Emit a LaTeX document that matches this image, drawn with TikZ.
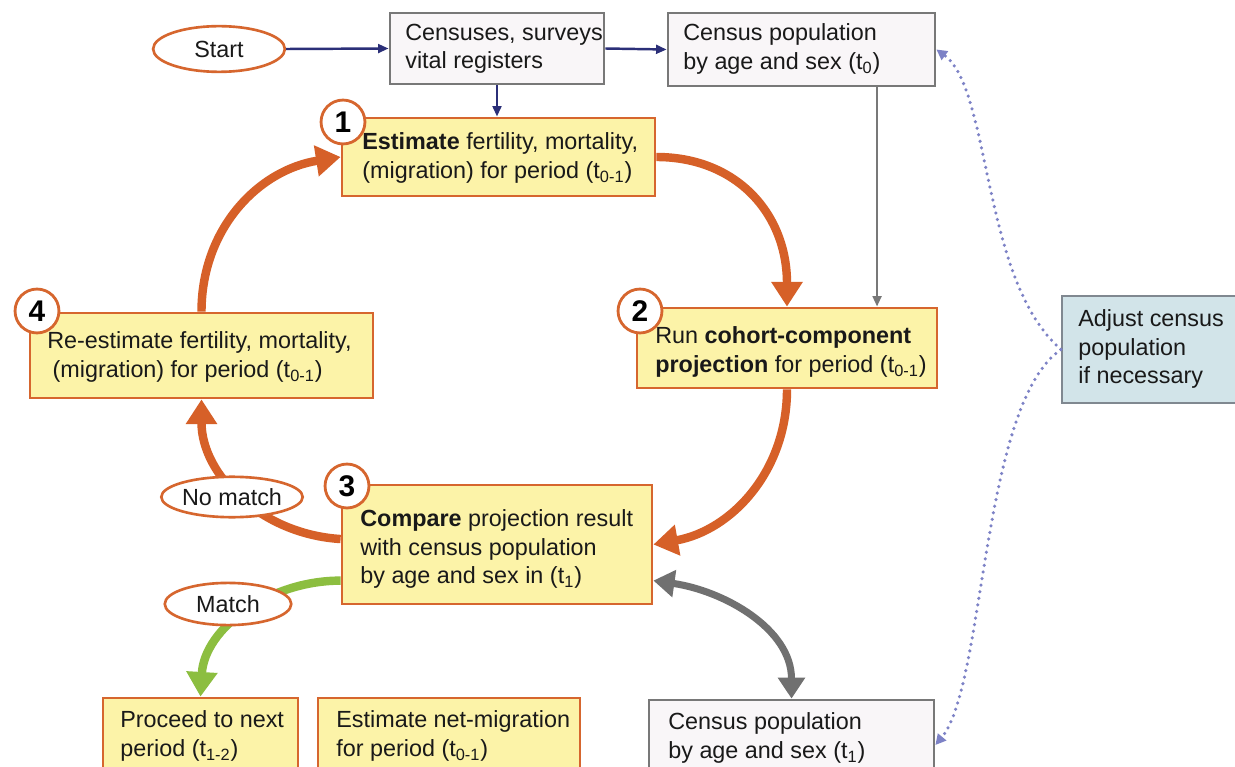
\documentclass[tikz,border=0pt]{standalone}
\usepackage{fontspec}
\setmainfont{Liberation Sans}
\usetikzlibrary{arrows.meta,fit,calc,shapes.geometric}
\definecolor{yfill}{RGB}{252,243,168}
\definecolor{oline}{RGB}{214,102,46}
\definecolor{oarrow}{RGB}{214,96,40}
\definecolor{gfill}{RGB}{249,246,248}
\definecolor{gline}{RGB}{120,120,120}
\definecolor{bfill}{RGB}{210,228,233}
\definecolor{bline}{RGB}{128,136,144}
\definecolor{navy}{RGB}{43,47,120}
\definecolor{dotc}{RGB}{125,130,198}
\definecolor{grn}{RGB}{140,190,64}
\definecolor{darr}{RGB}{112,112,112}
\definecolor{txtc}{RGB}{25,25,25}
\newcommand\dgfont{\fontsize{13.3pt}{16.2pt}\selectfont}
\begin{document}
\begin{tikzpicture}[x=0.02cm,y=-0.02cm,
  ybox/.style={draw=oline,fill=yfill,line width=1.6pt,inner sep=0pt},
  gbox/.style={draw=gline,fill=gfill,line width=1.6pt,inner sep=0pt},
  bbox/.style={draw=bline,fill=bfill,line width=1.2pt,inner sep=0pt},
  txt/.style={inner sep=0pt,anchor=west,align=left,font=\dgfont,text=txtc},
  oval/.style={ellipse,draw=oline,fill=white,line width=1.5pt,inner sep=0pt,font=\dgfont,text=txtc},
  num/.style={circle,draw=oline,fill=white,line width=1.6pt,minimum size=25pt,inner sep=0pt,text=black,font=\bfseries\fontsize{17pt}{17pt}\selectfont},
  oarr/.style={draw=oarrow,line width=4.8pt,-{Triangle[length=14pt,width=17pt]}},
  garr/.style={draw=grn,line width=4.8pt,-{Triangle[length=14pt,width=17pt]}},
  darrow/.style={draw=darr,line width=4pt,{Triangle[length=12pt,width=15pt]}-{Triangle[length=12pt,width=15pt]}},
  narr/.style={draw=navy,line width=1.4pt,-{Triangle[length=6pt,width=5pt]}},
  thinarr/.style={draw=gline,line width=1.4pt,-{Triangle[length=6pt,width=5pt]}},
  dotarr/.style={draw=dotc,line width=2pt,line cap=round,dash pattern=on 0pt off 3.8pt,-{Triangle[length=6pt,width=6pt]}}
]
\fill[white] (0,0) rectangle (1235,767);
\useasboundingbox (0,0) rectangle (1235,767);

% boxes
\node[gbox,fit={(390,13)(604,84)}] (cen) {};
\node[txt] (cent) at (405,49) {Censuses, surveys\\vital registers};
\node[gbox,fit={(668,13)(935,86)}] (t0) {};
\node[txt] (t0t) at (683,49) {Census population\\by age and sex (t\textsubscript{0})};
\node[ybox,fit={(342,118)(655,196)}] (b1) {};
\node[txt] (b1t) at (362,158) {\textbf{Estimate} fertility, mortality,\\(migration) for period (t\textsubscript{0-1})};
\node[ybox,fit={(637,308)(937,388)}] (b2) {};
\node[txt] (b2t) at (655,352) {Run \textbf{cohort-component}\\\textbf{projection} for period (t\textsubscript{0-1})};
\node[ybox,fit={(30,313)(373,398)}] (b4) {};
\node[txt] (b4t) at (47,357) {Re-estimate fertility, mortality,\\\hspace*{3pt}(migration) for period (t\textsubscript{0-1})};
\node[ybox,fit={(342,485)(652,604)}] (b3) {};
\node[txt] (b3t) at (360,549) {\textbf{Compare} projection result\\with census population\\by age and sex in (t\textsubscript{1})};
\node[bbox,fit={(1062,296)(1250,403)}] (adj) {};
\node[txt] (adjt) at (1078,349) {Adjust census\\population\\if necessary};
\node[ybox,fit={(103,698)(298,790)}] (proc) {};
\node[txt] (proct) at (120,736) {Proceed to next\\period (t\textsubscript{1-2})};
\node[ybox,fit={(318,698)(580,790)}] (netm) {};
\node[txt] (netmt) at (336,736) {Estimate net-migration\\for period (t\textsubscript{0-1})};
\node[gbox,fit={(649,700)(934,790)}] (t1) {};
\node[txt] (t1t) at (668,738) {Census population\\by age and sex (t\textsubscript{1})};

% number circles
\node[num] (n1) at (343,122) {1};
\node[num] (n2) at (640,311) {2};
\node[num] (n3) at (347,486) {3};
\node[num] (n4) at (37,311) {4};

% start
\node[oval,minimum width=75pt,minimum height=26pt] (start) at (219,49) {Start};

% navy connectors
\draw[narr] (start.east) -- (cen.west);
\draw[narr] (cen.east) -- (t0.west);
\draw[narr] (cen.south) -- (cen.south |- b1.north);
\draw[thinarr] ($(t0.south west)!0.78!(t0.south east)$) coordinate (g0) -- (g0 |- b2.north);

% cycle
\draw[oarr] (b4.north) .. controls +(0,-83) and +(-82,13) .. (b1.west);
\draw[oarr] (b1.east) .. controls +(80,0) and +(0,-93) .. (b2.north);
\draw[oarr] (b2.south) .. controls +(0,82) and +(78,-14) .. (b3.east);
\draw[oarr] (b3.178) .. controls +(-80,-5) and +(0,75) .. (b4.south);
\draw[garr] (b3.193) .. controls +(-72,0) and +(4,-68) .. (proc.north);
\draw[darrow] (b3.347) .. controls +(70,10) and +(0,-70) .. (t1.north);

% dotted
\draw[dotarr] (adj.west) .. controls +(-80,-70) and +(55,40) .. (t0.east);
\draw[dotarr] (adj.west) .. controls +(-80,55) and +(50,-60) .. (t1.east);

% labels on paths
\node[oval,minimum width=71pt,minimum height=23pt] (nomatch) at (232,497) {No match};
\node[oval,minimum width=72pt,minimum height=24pt] (match) at (228,604) {Match};
\end{tikzpicture}
\end{document}
